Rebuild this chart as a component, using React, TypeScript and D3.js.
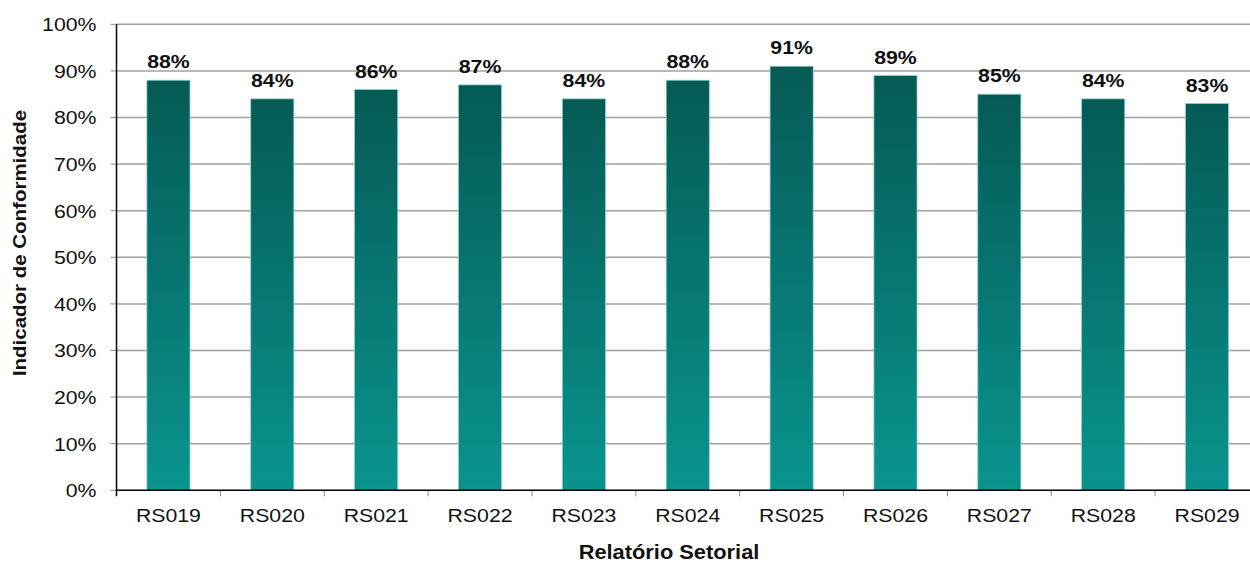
import React from "react";
import * as d3 from "d3";

const categories = ["RS019", "RS020", "RS021", "RS022", "RS023", "RS024", "RS025", "RS026", "RS027", "RS028", "RS029"];
const values = [88, 84, 86, 87, 84, 88, 91, 89, 85, 84, 83];
const yTicks = [0, 10, 20, 30, 40, 50, 60, 70, 80, 90, 100];

const W = 1250;
const H = 562;
const margin = { left: 116.5, top: 24.3, right: -9, bottom: 72 };
const SX = 1.12;

function T(props: {
  x: number;
  y: number;
  size: number;
  bold?: boolean;
  anchor?: "start" | "middle" | "end";
  rotate?: number;
  dy?: string;
  children: React.ReactNode;
}) {
  const { x, y, size, bold, anchor = "middle", rotate = 0, dy, children } = props;
  return (
    <text
      transform={`translate(${x},${y}) rotate(${rotate}) scale(${SX},1)`}
      textAnchor={anchor}
      fontSize={size}
      fontWeight={bold ? "bold" : "normal"}
      fill="#111"
      dy={dy}
    >
      {children}
    </text>
  );
}

export default function App() {
  const x = d3
    .scaleBand<string>()
    .domain(categories)
    .range([margin.left, W - margin.right])
    .paddingInner(0.585)
    .paddingOuter(0.2925);
  const bandStep = (W - margin.right - margin.left) / categories.length;
  const y = d3.scaleLinear().domain([0, 100]).range([490.3, margin.top]);
  const font = "'Liberation Sans', Arial, sans-serif";

  return (
    <svg width={W} height={H} style={{ position: "absolute", left: 0, top: 0 }} fontFamily={font}>
      <defs>
        <linearGradient id="barGrad" x1="0" y1="0" x2="0" y2="1">
          <stop offset="0%" stopColor="#055a55" />
          <stop offset="100%" stopColor="#0a948e" />
        </linearGradient>
      </defs>
      <rect x={0} y={0} width={W} height={H} fill="#ffffff" />
      {yTicks.map((t) => (
        <g key={t}>
          {t > 0 && (
            <line x1={margin.left} x2={W} y1={y(t)} y2={y(t)} stroke="#a0a0a0" strokeWidth={1.5} />
          )}
          <line x1={margin.left - 6} x2={margin.left} y1={y(t)} y2={y(t)} stroke="#888" strokeWidth={1} />
          <T x={margin.left - 20} y={y(t)} dy="0.36em" anchor="end" size={19}>
            {t}%
          </T>
        </g>
      ))}
      {categories.map((c, i) => (
        <g key={c}>
          <rect
            x={x(c)}
            y={y(values[i])}
            width={x.bandwidth()}
            height={y(0) - y(values[i])}
            fill="url(#barGrad)"
            stroke="#8ccfcb"
            strokeWidth={0.8}
          />
          <T x={(x(c) ?? 0) + x.bandwidth() / 2} y={y(values[i]) - 12} size={19} bold>
            {values[i]}%
          </T>
          <T x={(x(c) ?? 0) + x.bandwidth() / 2} y={521.5} size={19}>
            {c}
          </T>
          <line
            x1={margin.left + bandStep * (i + 1)}
            x2={margin.left + bandStep * (i + 1)}
            y1={y(0)}
            y2={y(0) + 6}
            stroke="#888"
            strokeWidth={1}
          />
        </g>
      ))}
      <line x1={margin.left} x2={margin.left} y1={margin.top} y2={y(0) + 6} stroke="#000" strokeWidth={1.5} />
      <line x1={margin.left} x2={W} y1={y(0)} y2={y(0)} stroke="#000" strokeWidth={1.5} />
      <T x={669} y={558.5} size={19.5} bold>
        Relatório Setorial
      </T>
      <T x={26} y={243} size={18.3} bold rotate={-90}>
        Indicador de Conformidade
      </T>
    </svg>
  );
}
